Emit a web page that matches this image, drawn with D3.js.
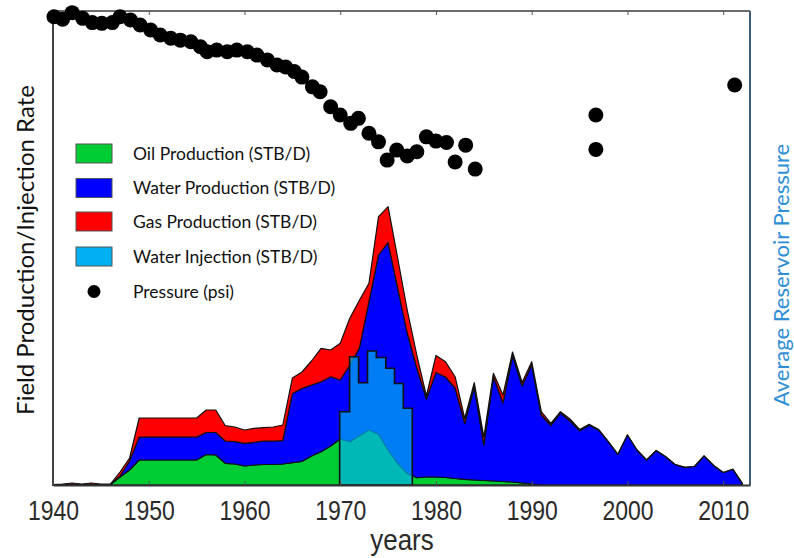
<!DOCTYPE html>
<html>
<head>
<meta charset="utf-8">
<script src="https://cdn.jsdelivr.net/npm/d3@7"></script>
<style>
  body { margin: 0; background: #fff; }
  svg { display: block; }
</style>
</head>
<body>
<div id="chart"></div>
<script>
// Yearly production rates (thousand STB/D).
var years = [1940, 1941, 1942, 1943, 1944, 1945, 1946, 1947, 1948, 1949,
  1950, 1951, 1952, 1953, 1954, 1955, 1956, 1957, 1958, 1959,
  1960, 1961, 1962, 1963, 1964, 1965, 1966, 1967, 1968, 1969,
  1970, 1971, 1972, 1973, 1974, 1975, 1976, 1977, 1978, 1979,
  1980, 1981, 1982, 1983, 1984, 1985, 1986, 1987, 1988, 1989,
  1990, 1991, 1992, 1993, 1994, 1995, 1996, 1997, 1998, 1999,
  2000, 2001, 2002, 2003, 2004, 2005, 2006, 2007, 2008, 2009,
  2010, 2011, 2012];

var oil = [0, 0.05, 0.05, 0.05, 0.05, 0.05, 0.05, 0.8, 1.5, 2.5,
  2.5, 2.5, 2.5, 2.5, 2.5, 2.5, 3.05, 3.0, 2.17, 2.1,
  1.9, 2.0, 2.05, 2.05, 2.1, 2.23, 2.35, 2.9, 3.33, 3.9,
  4.6, 4.33, 4.93, 5.5, 5.07, 3.5, 2.17, 1.17, 0.73, 0.8,
  0.8, 0.75, 0.65, 0.57, 0.5, 0.45, 0.4, 0.35, 0.3, 0.2,
  0.1, 0, 0, 0, 0, 0, 0, 0, 0, 0,
  0, 0, 0, 0, 0, 0, 0, 0, 0, 0,
  0, 0, 0];

var water = [0, 0, 0, 0, 0, 0, 0, 0.1, 0.9, 2.3,
  2.3, 2.3, 2.3, 2.3, 2.3, 2.3, 2.2, 2.25, 2.23, 2.23,
  2.27, 2.27, 2.35, 2.35, 2.33, 6.92, 7.3, 7.1, 7.0, 6.93,
  5.9, 7.64, 8.77, 12.83, 17.93, 20.73, 17.53, 14.03, 10.97, 7.8,
  10.45, 10.05, 9.05, 5.6, 9.33, 3.55, 10.43, 7.85, 12.65, 9.7,
  11.9, 7.0, 5.95, 7.2, 6.4, 5.43, 5.97, 5.5, 4.33, 3.07,
  5.0, 3.5, 2.5, 3.45, 2.83, 2.03, 1.77, 1.85, 2.9, 1.95,
  1.25, 1.58, 0.17];

var gas = [0.05, 0.05, 0.15, 0.05, 0.15, 0.05, 0.05, 0.4, 0.3, 1.9,
  1.9, 1.9, 1.9, 1.9, 1.9, 1.9, 2.25, 2.25, 1.53, 1.47,
  1.33, 1.4, 1.33, 1.4, 1.57, 1.55, 1.65, 2.4, 3.34, 2.67,
  3.67, 4.7, 4.77, 1.84, 3.83, 3.6, 3.0, 2.3, 1.3, 0.3,
  1.7, 1.53, 1.13, 0.48, 0.4, 0.8, 0.34, 0.8, 0.35, 0.35,
  0.33, 0.33, 0.2, 0.13, 0.2, 0.12, 0.1, 0.05, 0.02, 0,
  0, 0, 0, 0, 0, 0, 0, 0, 0, 0,
  0, 0, 0];

// Water injection: step edges (years) and rate for each step.
var injectionEdges = [1969.94, 1970.98, 1971.92, 1972.85, 1973.77, 1974.76, 1975.67, 1976.59, 1977.53];
var injection = [7.33, 12.83, 10.23, 13.4, 12.75, 11.67, 10.15, 7.67];

// Average reservoir pressure (psi).
var pressureYears = [1940.1, 1941.0, 1942.0, 1943.1, 1944.1, 1945.1, 1946.2, 1947.0, 1948.1, 1949.1,
  1950.2, 1951.2, 1952.3, 1953.3, 1954.4, 1955.4, 1956.1, 1957.1, 1958.2, 1959.2,
  1960.3, 1961.3, 1962.4, 1963.4, 1964.3, 1965.2, 1966.0, 1967.1, 1967.9, 1969.0,
  1970.0, 1971.1, 1971.9, 1973.0, 1974.0, 1974.9, 1975.9, 1977.0, 1978.0, 1979.0,
  1980.0, 1981.1, 1982.0, 1983.1, 1984.1, 1996.7, 1996.7, 2011.2];
var pressure = [2976, 2965, 2993, 2969, 2951, 2948, 2951, 2976, 2962, 2941,
  2920, 2899, 2885, 2877, 2870, 2849, 2828, 2835, 2828, 2835,
  2828, 2814, 2793, 2772, 2764, 2745, 2721, 2680, 2659, 2596,
  2561, 2526, 2547, 2484, 2448, 2371, 2413, 2388, 2406, 2469,
  2451, 2445, 2363, 2434, 2333, 2561, 2416, 2688];

var xTicks = [1940, 1950, 1960, 1970, 1980, 1990, 2000, 2010];

var legendLabels = ["Oil Production (STB/D)", "Water Production (STB/D)", "Gas Production (STB/D)",
  "Water Injection (STB/D)", "Pressure (psi)"];
var legendColors = ["#00cc33", "#0000ff", "#ff0000", "#00b0f0", "#000"];

// Plot setup.
var svgWidth = 794, svgHeight = 558;
var plotLeft = 53, plotRight = 750, plotTop = 11, plotBottom = 485;

var svg = d3.select("#chart").append("svg")
  .attr("width", svgWidth)
  .attr("height", svgHeight);

var x = d3.scaleLinear().domain([1940, 2012.8]).range([plotLeft, plotRight]);
var yRate = d3.scaleLinear().domain([0, 47.4]).range([plotBottom, plotTop]);
var yPressure = d3.scaleLinear().domain([1000, 3000]).range([plotBottom, plotTop]);

// Stacked production areas: oil, water, gas.
var table = years.map(function(yr, i) {
  return { year: yr, oil: oil[i], water: water[i], gas: gas[i] };
});
var keys = ["oil", "water", "gas"];
var colors = { oil: "#00cc33", water: "#0000ff", gas: "#ff0000" };
var stacked = d3.stack().keys(keys)(table);

var area = d3.area()
  .x(function(d) { return x(d.data.year); })
  .y0(function(d) { return yRate(d[0]); })
  .y1(function(d) { return yRate(d[1]); });

svg.append("g").attr("class", "production")
  .selectAll("path")
  .data(stacked)
  .enter().append("path")
  .attr("d", area)
  .attr("fill", function(d) { return colors[d.key]; })
  .attr("stroke", "#111")
  .attr("stroke-width", 1.2)
  .attr("stroke-linejoin", "round");

// Water injection as a step area on top of the stack.
var injPoints = injectionEdges.map(function(e, i) {
  return { year: e, value: i < injection.length ? injection[i] : injection[injection.length - 1] };
});
var injArea = d3.area()
  .curve(d3.curveStepAfter)
  .x(function(d) { return x(d.year); })
  .y0(yRate(0))
  .y1(function(d) { return yRate(d.value); });

svg.append("path")
  .datum(injPoints)
  .attr("d", injArea)
  .attr("fill", "#00b0f0")
  .attr("fill-opacity", 0.7)
  .attr("stroke", "#111")
  .attr("stroke-width", 1.6);

// Frame with inward ticks on top and bottom.
svg.append("line").attr("x1", plotLeft).attr("x2", plotRight).attr("y1", plotTop).attr("y2", plotTop)
  .attr("stroke", "#6b6b6b").attr("stroke-width", 2);
svg.append("line").attr("x1", plotRight).attr("x2", plotRight).attr("y1", plotTop).attr("y2", plotBottom)
  .attr("stroke", "#3e5a78").attr("stroke-width", 2);

var xAxis = svg.append("g")
  .attr("class", "x_axis")
  .attr("transform", "translate(0," + plotBottom + ")")
  .call(d3.axisBottom(x).tickValues(xTicks).tickFormat(d3.format("d")).tickSizeInner(-4).tickSizeOuter(0));
xAxis.select(".domain").attr("stroke", "#333").attr("stroke-width", 2);
xAxis.selectAll(".tick line").attr("stroke", "#555");
// Labels in the reference look slightly stretched vertically.
xAxis.selectAll(".tick text")
  .attr("y", 29)
  .attr("dy", null)
  .attr("font-family", "Liberation Sans, Arial, sans-serif")
  .attr("font-size", 23)
  .attr("fill", "#2a2a2a")
  .attr("transform", "scale(1,1.2)");

var xTop = svg.append("g")
  .attr("transform", "translate(0," + plotTop + ")")
  .call(d3.axisTop(x).tickValues(xTicks).tickFormat("").tickSizeInner(-4).tickSizeOuter(0));
xTop.select(".domain").remove();
xTop.selectAll(".tick line").attr("stroke", "#555");

svg.append("line").attr("x1", plotLeft).attr("x2", plotLeft).attr("y1", plotTop).attr("y2", plotBottom + 1)
  .attr("stroke", "#444").attr("stroke-width", 2);

// Pressure points.
svg.append("g").attr("class", "pressure")
  .selectAll("circle")
  .data(pressure)
  .enter().append("circle")
  .attr("cx", function(d, i) { return x(pressureYears[i]); })
  .attr("cy", function(d) { return yPressure(d); })
  .attr("r", 7.5)
  .attr("fill", "#000");

// Axis titles.
svg.append("text")
  .attr("transform", "translate(402,550) scale(1,1.15)")
  .style("text-anchor", "middle")
  .attr("font-family", "Liberation Sans, Arial, sans-serif")
  .attr("font-size", 26)
  .attr("fill", "#2a2a2a")
  .text("years");

svg.append("text")
  .attr("transform", "translate(34,250) rotate(-90)")
  .style("text-anchor", "middle")
  .attr("font-family", "Lato, sans-serif")
  .attr("font-size", 24)
  .attr("fill", "#111")
  .text("Field Production/Injection Rate");

svg.append("text")
  .attr("transform", "translate(789,275) rotate(-90)")
  .style("text-anchor", "middle")
  .attr("font-family", "Lato, sans-serif")
  .attr("font-size", 22)
  .attr("fill", "#2f8ed6")
  .text("Average Reservoir Pressure");

// Legend.
var legend = svg.append("g").attr("class", "legend");
var rowY = [153.5, 188, 221.5, 256.5, 291.5];
legendLabels.forEach(function(label, i) {
  if (i < 4) {
    legend.append("rect")
      .attr("x", 76).attr("y", rowY[i] - 9.5)
      .attr("width", 36).attr("height", 19)
      .attr("fill", legendColors[i])
      .attr("stroke", "#555").attr("stroke-width", 1);
  } else {
    legend.append("circle")
      .attr("cx", 94).attr("cy", rowY[i]).attr("r", 6.5)
      .attr("fill", legendColors[i]);
  }
  legend.append("text")
    .attr("x", 133).attr("y", rowY[i])
    .attr("dy", "0.35em")
    .attr("font-family", "Lato, sans-serif")
    .attr("font-size", 17.5)
    .attr("fill", "#111")
    .text(label);
});
</script>
</body>
</html>
